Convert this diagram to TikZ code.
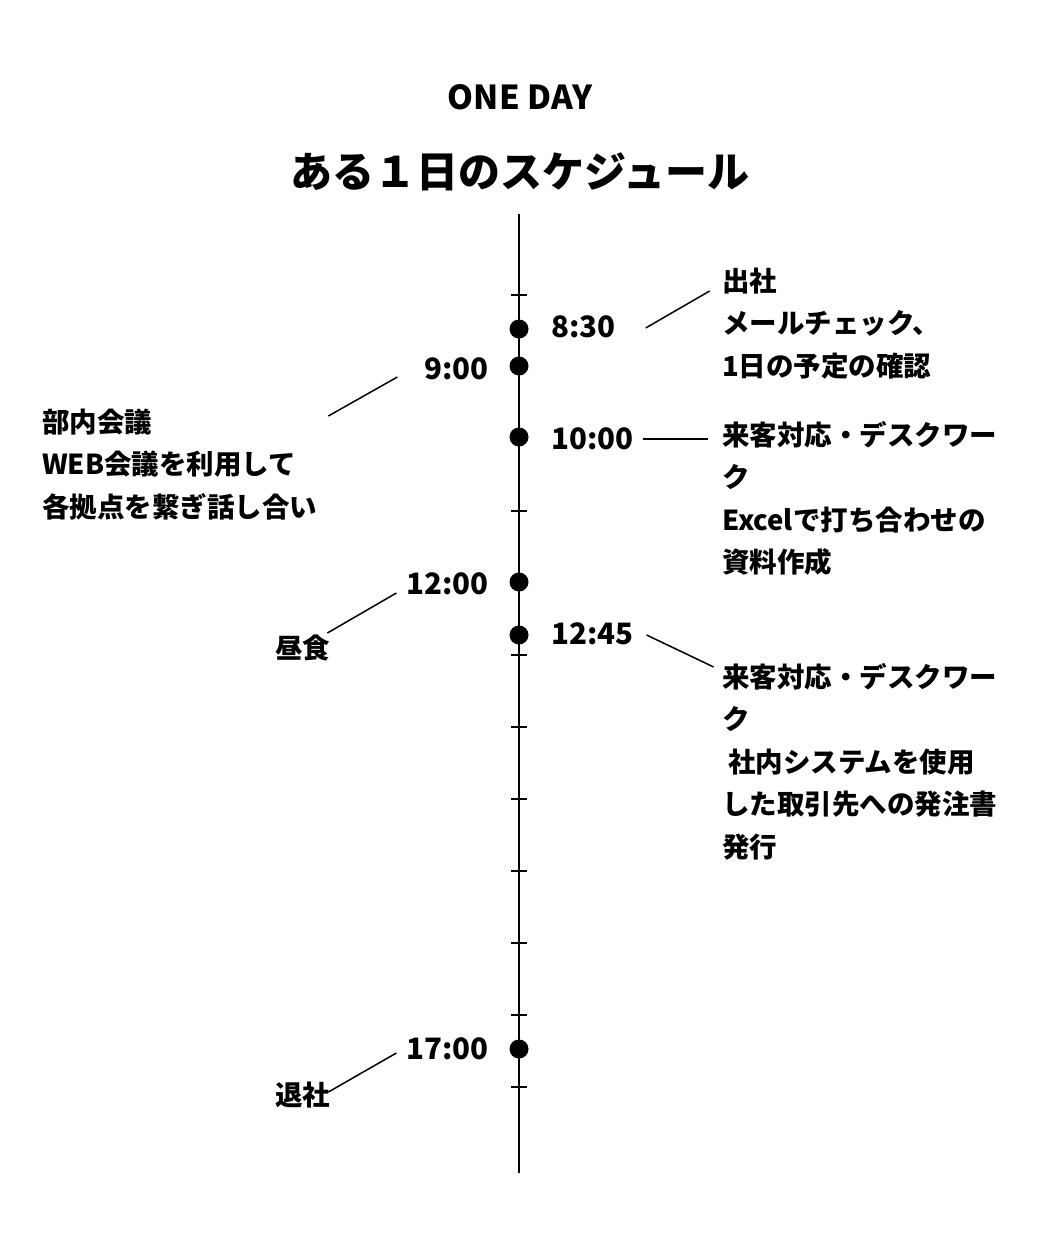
\documentclass[tikz,border=0pt]{standalone}
\usepackage{fontspec}
\setmainfont{Noto Sans CJK JP}
\usetikzlibrary{positioning}

\begin{document}
\begin{tikzpicture}[x=1pt, y=-1pt,
  time/.style={font=\fontsize{29.5}{29.5}\selectfont\bfseries, inner sep=0},
  note/.style={font=\fontsize{27.5}{42.5}\selectfont\bfseries, align=left, inner sep=0, anchor=base west},
  dot/.style={circle, fill, minimum size=19pt, inner sep=0},
  link/.style={line width=1.5pt}]
\useasboundingbox (0,0) rectangle (1040,1254);

% heading
\node[font=\fontsize{33}{33}\selectfont\bfseries] (oneday) at (520,97) {ONE DAY};
\node[font=\fontsize{42}{42}\selectfont\bfseries] (title) at (520,172) {ある１日のスケジュール};

% time axis with hour ticks
\coordinate (top) at (519,214);
\coordinate (bottom) at (519,1173);
\draw[line width=2pt] (top) -- (bottom);
\foreach \k in {0,...,11}
  \draw[line width=2pt] (511,295+72*\k) -- (527,295+72*\k);

% dots on the axis
\node[dot] (d0830) at (519,329) {};
\node[dot] (d0900) at (519,366) {};
\node[dot] (d1000) at (519,437) {};
\node[dot] (d1200) at (519,582) {};
\node[dot] (d1245) at (519,635) {};
\node[dot] (d1700) at (519,1049) {};

% time labels
\node[time, anchor=west] (t0830) at (551,327) {8:30};
\node[time, anchor=east] (t0900) at (489,369) {9:00};
\node[time, anchor=west] (t1000) at (551,439) {10:00};
\node[time, anchor=east] (t1200) at (489,584) {12:00};
\node[time, anchor=west] (t1245) at (551,634) {12:45};
\node[time, anchor=east] (t1700) at (489,1049) {17:00};

% notes (base = last line)
\node[note] (arrive) at (722,376) {出社\\メールチェック、\\1日の予定の確認};
\node[note] (meeting) at (42,517) {部内会議\\WEB会議を利用して\\各拠点を繋ぎ話し合い};
\node[note] (desk1) at (722,572.5) {来客対応・デスクワー\\ク\\Excelで打ち合わせの\\資料作成};
\node[note] (lunch) at (275,658) {昼食};
\node[note] (desk2) at (722,857) {来客対応・デスクワー\\ク\\\hspace*{0.22em}社内システムを使用\\した取引先への発注書\\発行};
\node[note] (leave) at (275,1105) {退社};

% leader lines
\draw[link] ([shift={(30,1)}]t0830.east) -- ++(64,-37);
\draw[link] ([shift={(-27,8)}]t0900.west) -- ++(-69,39);
\draw[link] ([shift={(9,0)}]t1000.east) -- ++(65,0);
\draw[link] ([shift={(-10,9)}]t1200.west) -- ++(-69,40);
\draw[link] ([shift={(13,1)}]t1245.east) -- ++(67,32);
\draw[link] ([shift={(-10,4)}]t1700.west) -- ++(-68,39);

\end{tikzpicture}
\end{document}
